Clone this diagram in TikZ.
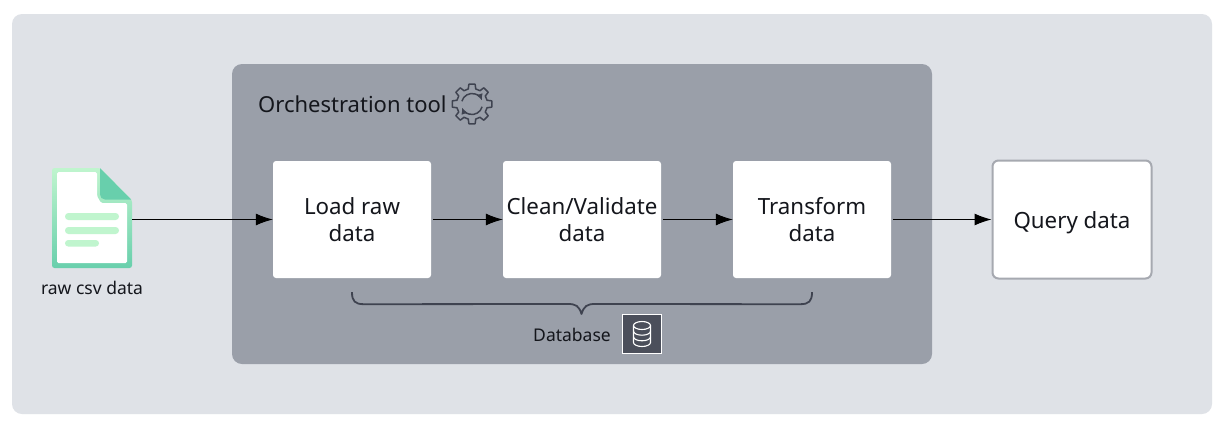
\documentclass[tikz,border=0pt]{standalone}
\usepackage{fontspec}
\setmainfont{Noto Sans}
\usetikzlibrary{arrows.meta,calc}
\definecolor{bgc}{HTML}{DFE2E7}
\definecolor{orch}{HTML}{9A9FA9}
\definecolor{ink}{HTML}{14161C}
\definecolor{dark}{HTML}{3F4350}
\definecolor{dbf}{HTML}{4B4F5B}
\definecolor{qb}{HTML}{A6A9B0}
\definecolor{lgreen}{HTML}{C0F5CE}
\definecolor{tgreen}{HTML}{68CFAC}
\tikzset{
  panel/.style={rounded corners=10pt,draw=none},
  stepbox/.style={fill=white,rounded corners=3pt,minimum width=158pt,minimum height=117pt,align=center,inner sep=0pt,text=ink,font=\fontsize{22.3}{27}\selectfont},
  flow/.style={draw=black,line width=1pt,-{Latex[length=17pt,width=12pt]}},
  small/.style={text=ink,inner sep=0pt,font=\fontsize{17.5}{20}\selectfont},
  iconline/.style={line width=1.5pt,draw=dark,line join=round}
}
\begin{document}
\begin{tikzpicture}[x=1pt,y=-1pt]
\useasboundingbox (0,0) rectangle (1222,426);
\fill[white] (0,0) rectangle (1222,426);
\fill[bgc,panel] (12,14) rectangle (1212,414);
\fill[orch,panel] (232,64) rectangle (932,364);

% boxes
\node[stepbox] (load) at (352,219.5) {Load raw\\data};
\node[stepbox] (clean) at (582,219.5) {Clean/Validate\\data};
\node[stepbox] (transform) at (812,219.5) {Transform\\data};
\node[stepbox,draw=qb,line width=2pt,minimum width=159pt,minimum height=118pt,rounded corners=6pt] (query) at (1072,219.5) {\raisebox{-8.5pt}[0pt][0pt]{Query data}};

% title and gear
\node[anchor=west,text=ink,inner sep=0pt,font=\fontsize{22}{25}\selectfont] (title) at (258,104.5) {Orchestration tool};
\begin{scope}[shift={(472,104)}]
\draw[iconline] (76:15.5)
  \foreach \a in {90,135,180,225,270,315,360,405} {
    -- (\a-14:15.5) -- (\a-9:20) -- (\a+9:20) -- (\a+14:15.5)
  } -- cycle;
\draw[iconline,-{Latex[length=6.5pt,width=6.5pt]}] (195:10.5) arc[start angle=195,end angle=340,radius=10.5];
\draw[iconline,-{Latex[length=6.5pt,width=6.5pt]}] (15:10.5) arc[start angle=15,end angle=160,radius=10.5];
\end{scope}

% file icon
\node[minimum width=80pt,minimum height=100pt,inner sep=0pt] (file) at (92,218) {};
\shade[top color=lgreen,bottom color=tgreen,rounded corners=2.5pt]
  (52,168) -- (100,168) -- (132,200) -- (132,268) -- (52,268) -- cycle;
\fill[white,rounded corners=1.5pt]
  (57,172) -- (97,172) -- (97,196) -- (101,203) -- (127,203) -- (127,263) -- (57,263) -- cycle;
\fill[tgreen] (100,168) -- (131,199.5) -- (105,199.5) [rounded corners=5pt] -- (100,199.5) [sharp corners] -- cycle;
\fill[lgreen,rounded corners=3.4pt] (65,213) rectangle (119,220);
\fill[lgreen,rounded corners=3.4pt] (65,227) rectangle (119,234);
\fill[lgreen,rounded corners=3.2pt] (65,240) rectangle (99,246.5);
\node[small,anchor=center] (rawlabel) at (92,287.5) {raw csv data};

% connectors
\draw[flow] (file.east |- load.west) -- (load.west);
\draw[flow] ($(load.east)+(2,0)$) -- (clean.west);
\draw[flow] ($(clean.east)+(2,0)$) -- (transform.west);
\draw[flow] ($(transform.east)+(2,0)$) -- (query.west);

% brace
\coordinate (bl) at (load.south);
\coordinate (br) at (transform.south);
\draw[dark,line width=1.8pt,line join=round]
  ($(bl)+(0,14)$) .. controls ($(bl)+(0,23)$) and ($(bl)+(3,26)$) .. ($(bl)+(12,26)$)
  -- (568,304) .. controls (576,304) and (579,306) .. (581.5,314)
  .. controls (584,306) and (587,304) .. (595,304)
  -- ($(br)+(-12,26)$) .. controls ($(br)+(-3,26)$) and ($(br)+(0,23)$) .. ($(br)+(0,14)$);

% database
\node[small,anchor=east] (dblabel) at (611,334.5) {Database};
\node[draw=white,fill=dbf,line width=1.5pt,minimum size=39pt,inner sep=0pt] (db) at (642,334) {};
\begin{scope}[shift={(db.center)}]
\draw[white,line width=1.1pt] (0,-8.5) ellipse[x radius=8.5,y radius=4];
\draw[white,line width=1.1pt] (-8.5,-8.5) -- (-8.5,8.5) arc[start angle=180,end angle=0,x radius=8.5,y radius=4] -- (8.5,-8.5);
\draw[white,line width=1.1pt] (-8.5,-2.8) arc[start angle=180,end angle=0,x radius=8.5,y radius=4];
\draw[white,line width=1.1pt] (-8.5,2.8) arc[start angle=180,end angle=0,x radius=8.5,y radius=4];
\end{scope}
\end{tikzpicture}
\end{document}
